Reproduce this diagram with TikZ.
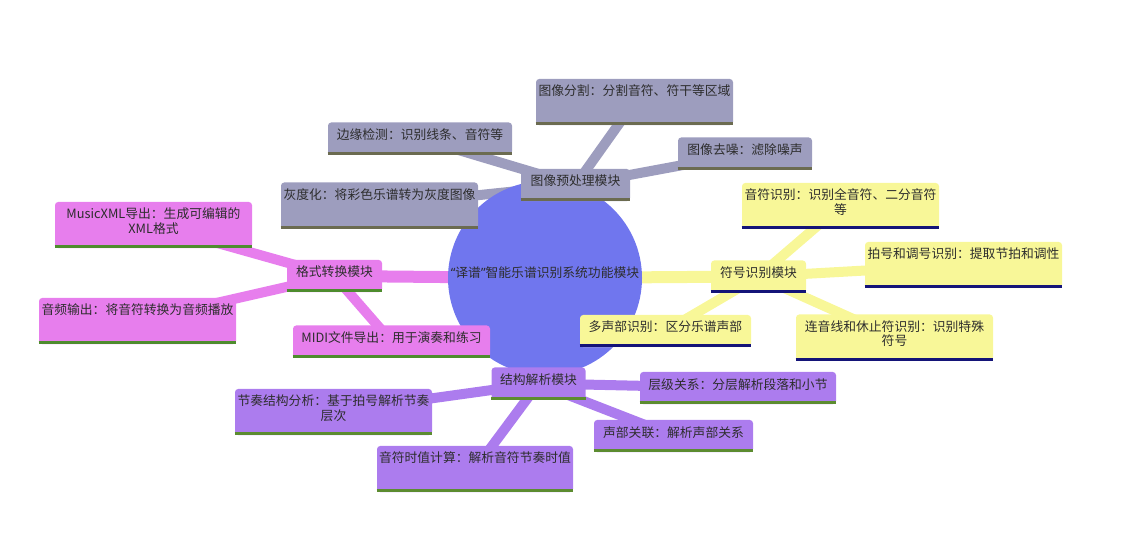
\documentclass[tikz,border=0pt]{standalone}
\usepackage{fontspec}
\setmainfont{Noto Sans CJK SC}
\newfontfamily\westfont{Noto Sans}
\usepackage{tikz}
\usetikzlibrary{backgrounds}

\definecolor{txt}{RGB}{45,45,45}
\definecolor{rootfill}{RGB}{112,118,238}
\definecolor{prefill}{RGB}{157,157,190}
\definecolor{preline}{RGB}{107,107,80}
\definecolor{fmtfill}{RGB}{231,126,237}
\definecolor{fmtline}{RGB}{78,140,46}
\definecolor{symfill}{RGB}{248,247,152}
\definecolor{symline}{RGB}{20,20,120}
\definecolor{strucfill}{RGB}{172,124,238}
\definecolor{strucline}{RGB}{92,140,48}

\newlength\toppad \setlength\toppad{0.425cm}
\newlength\botpad \setlength\botpad{0.375cm}
\newcommand\tp{\rule{0pt}{\toppad}}
\newcommand\bt{\rule[-\botpad]{0pt}{0pt}}
\def \px {0.025cm}

\begin{document}
\begin{tikzpicture}[
x=0.025cm, y=-0.025cm,
box/.style={
		rounded corners=0.08cm,
		inner sep=0pt,
		align=center,
		text=txt,
		font=\fontsize{9.1pt}{9.96pt}\selectfont,
		},
prebox/.style={box, fill=prefill},
fmtbox/.style={box, fill=fmtfill},
symbox/.style={box, fill=symfill},
strucbox/.style={box, fill=strucfill},
root/.style={circle, fill=rootfill, minimum size=194*\px, inner sep=0pt,
		text=txt, font=\fontsize{9.1pt}{9.96pt}\selectfont},
trunk/.style={line width=12*\px},
twig/.style={line width=10*\px},
under/.style={line width=3*\px}
]
\useasboundingbox (0,0) rectangle (1122,556);

\node[root] (root) at (545,278) {\smash{{\westfont “}译谱{\westfont ”}智能乐谱识别系统功能模块}};

% image preprocessing
\node[prebox, minimum width=109*\px] (pre) at (575.5,185) {\tp 图像预处理模块\bt};
\node[prebox, minimum width=197*\px] (cut) at (634.5,102) {\tp 图像分割：分割音符、符干等区域\\\bt};
\node[prebox, minimum width=184*\px] (border) at (420,138.5) {\tp 边缘检测：识别线条、音符等\bt};
\node[prebox, minimum width=134*\px] (denoise) at (745,153.5) {\tp 图像去噪：滤除噪声\bt};
\node[prebox, minimum width=197*\px] (grayscale) at (379.5,205.5) {\tp 灰度化：将彩色乐谱转为灰度图像\\\bt};

% format conversion
\node[fmtbox, minimum width=95*\px] (fmt) at (334.5,276) {\tp 格式转换模块\bt};
\node[fmtbox, minimum width=197*\px] (xml) at (153.5,225) {\tp MusicXML导出：生成可编辑的\\XML格式\bt};
\node[fmtbox, minimum width=197*\px] (audio) at (137.5,321) {\tp 音频输出：将音符转换为音频播放\\\bt};
\node[fmtbox, minimum width=197*\px] (midi) at (391.5,341.5) {\tp MIDI文件导出：用于演奏和练习\bt};

% symbol recognition
\node[symbox, minimum width=95*\px] (sym) at (758.5,276.5) {\tp 符号识别模块\bt};
\node[symbox, minimum width=197*\px] (note) at (840.5,206) {\tp 音符识别：识别全音符、二分音符\\等\bt};
\node[symbox, minimum width=197*\px] (meter) at (963.5,265) {\tp 拍号和调号识别：提取节拍和调性\\\bt};
\node[symbox, minimum width=171*\px] (voice) at (665.5,331) {\tp 多声部识别：区分乐谱声部\bt};
\node[symbox, minimum width=197*\px] (tie) at (894.5,337.5) {\tp 连音线和休止符识别：识别特殊\\符号\bt};

% structure parsing
\node[strucbox, minimum width=94*\px] (struc) at (538.5,383.5) {\tp 结构解析模块\bt};
\node[strucbox, minimum width=196*\px] (level) at (738,388) {\tp 层级关系：分层解析段落和小节\bt};
\node[strucbox, minimum width=197*\px] (rhythm) at (333.5,412) {\tp 节奏结构分析：基于拍号解析节奏\\层次\bt};
\node[strucbox, minimum width=159*\px] (part) at (673.5,436) {\tp 声部关联：解析声部关系\bt};
\node[strucbox, minimum width=196*\px] (dur) at (475,469) {\tp 音符时值计算：解析音符节奏时值\\\bt};

\begin{scope}[on background layer]
\draw[trunk, prefill] (root.center) -- (pre.center);
\draw[trunk, fmtfill] (root.center) -- (fmt.center);
\draw[trunk, symfill] (root.center) -- (sym.center);
\draw[trunk, strucfill] (root.center) -- (struc.center);
\foreach \n in {cut,border,denoise,grayscale}
  \draw[twig, prefill] (pre.center) -- (\n.center);
\foreach \n in {xml,audio,midi}
  \draw[twig, fmtfill] (fmt.center) -- (\n.center);
\foreach \n in {note,meter,voice,tie}
  \draw[twig, symfill] (sym.center) -- (\n.center);
\foreach \n in {level,rhythm,part,dur}
  \draw[twig, strucfill] (struc.center) -- (\n.center);
\end{scope}

% underlines
\foreach \n in {pre,cut,border,denoise,grayscale}
  \draw[under, preline] ([yshift=1.5*\px]\n.south west) -- ([yshift=1.5*\px]\n.south east);
\foreach \n in {fmt,xml,audio,midi}
  \draw[under, fmtline] ([yshift=1.5*\px]\n.south west) -- ([yshift=1.5*\px]\n.south east);
\foreach \n in {sym,note,meter,voice,tie}
  \draw[under, symline] ([yshift=1.5*\px]\n.south west) -- ([yshift=1.5*\px]\n.south east);
\foreach \n in {struc,level,rhythm,part,dur}
  \draw[under, strucline] ([yshift=1.5*\px]\n.south west) -- ([yshift=1.5*\px]\n.south east);
\end{tikzpicture}
\end{document}
